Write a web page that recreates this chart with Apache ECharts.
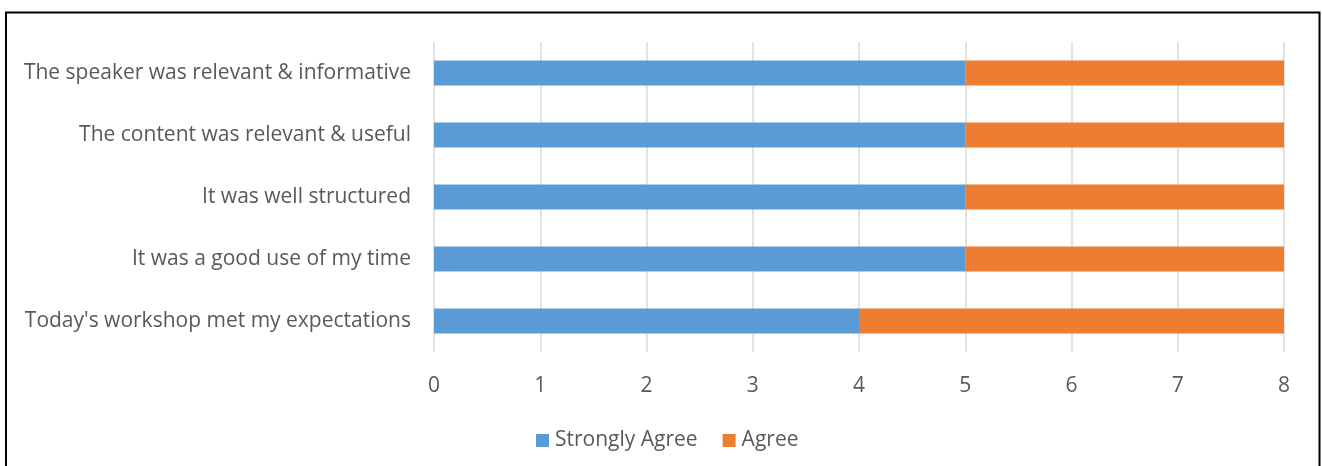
<!DOCTYPE html>
<html><head><meta charset="utf-8">
<script src="https://cdn.jsdelivr.net/npm/echarts@6/dist/echarts.min.js"></script>
<style>html,body{margin:0;padding:0;background:#fff}#c{width:1322px;height:466px}</style>
</head><body><div id="c"></div>
<script>
const categories = ["Today's workshop met my expectations","It was a good use of my time","It was well structured","The content was relevant & useful","The speaker was relevant & informative"];
const stronglyAgree = [4,5,5,5,5];
const agree = [4,3,3,3,3];
const xTicks = [0,1,2,3,4,5,6,7,8];
const font = '"Open Sans", sans-serif';
const chart = echarts.init(document.getElementById('c'), null, {renderer:'canvas'});
chart.setOption({
  animation:false,
  graphic:[{type:'rect',shape:{x:6,y:12.5,width:1313.5,height:480},style:{fill:'none',stroke:'#000',lineWidth:2},z:100}],
  grid:{left:434,right:38,top:42,bottom:114,containLabel:false},
  legend:{bottom:10,left:531,padding:5,itemWidth:13,itemHeight:13,itemGap:25,itemStyle:{borderWidth:0},icon:'rect',
    textStyle:{color:'#595959',fontSize:21,fontFamily:font,padding:[0,0,0,1]},data:['Strongly Agree','Agree']},
  xAxis:{type:'value',min:0,max:8,interval:1,
    axisLine:{show:false},axisTick:{show:false},
    splitLine:{lineStyle:{color:'#d9d9d9',width:1.5}},
    axisLabel:{color:'#595959',fontSize:21,fontFamily:font,margin:24,formatter:v=>xTicks.includes(v)?String(v):''}},
  yAxis:{type:'category',data:categories,axisLine:{show:false},axisTick:{show:false},
    axisLabel:{color:'#595959',fontSize:21,fontFamily:font,margin:23}},
  series:[
    {name:'Strongly Agree',type:'bar',stack:'s',data:stronglyAgree,barCategoryGap:'60%',itemStyle:{color:'#5b9bd5'}},
    {name:'Agree',type:'bar',stack:'s',data:agree,barCategoryGap:'60%',itemStyle:{color:'#ed7d31'}}
  ]
});
</script></body></html>
